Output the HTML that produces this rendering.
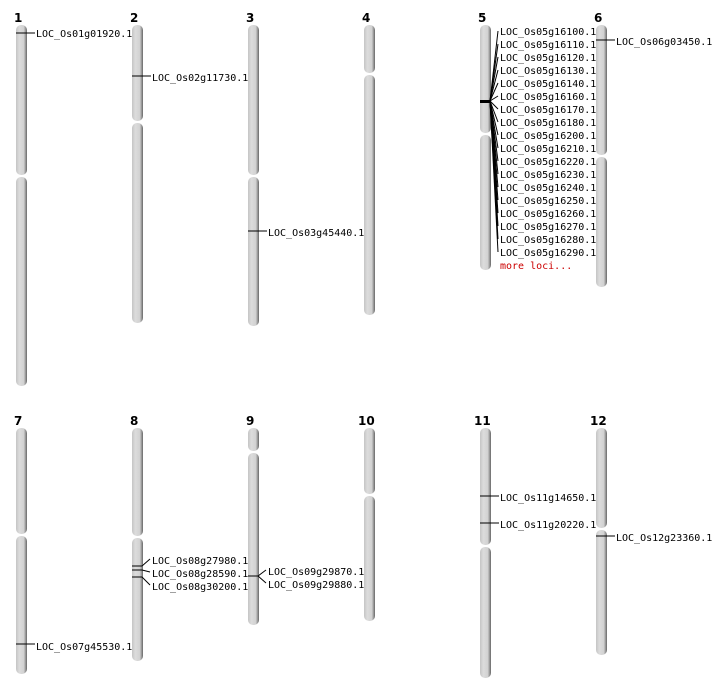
<!DOCTYPE html>
<html><head><meta charset="utf-8"><style>
html,body{margin:0;padding:0;background:#fff;}
svg{display:block;}
.n{font-family:"DejaVu Sans","Liberation Sans",sans-serif;font-weight:bold;font-size:12px;fill:#000;}
.l{font-family:"DejaVu Sans Mono","Liberation Mono",monospace;font-size:10px;fill:#000;}
.r{font-family:"DejaVu Sans Mono","Liberation Mono",monospace;font-size:10px;fill:#c00;}
.s{fill:url(#g);}
line{stroke:#000;stroke-width:1;}
</style></head><body>
<svg width="712" height="700" viewBox="0 0 712 700" xmlns="http://www.w3.org/2000/svg">
<defs><linearGradient id="g" x1="0" x2="1" y1="0" y2="0">
<stop offset="0" stop-color="#c4c4c4"/><stop offset="0.3" stop-color="#dcdcdc"/><stop offset="0.7" stop-color="#d2d2d2"/><stop offset="0.85" stop-color="#a0a0a0"/><stop offset="1" stop-color="#666"/></linearGradient></defs>
<!-- row 1 -->
<text class="n" x="14" y="22">1</text><text class="n" x="130" y="22">2</text><text class="n" x="246" y="22">3</text><text class="n" x="362" y="22">4</text><text class="n" x="478" y="22">5</text><text class="n" x="594" y="22">6</text>
<rect class="s" x="16" y="25" width="11" height="150" rx="5"/><rect class="s" x="16" y="177" width="11" height="209" rx="5"/>
<rect class="s" x="132" y="25" width="11" height="96" rx="5"/><rect class="s" x="132" y="123" width="11" height="200" rx="5"/>
<rect class="s" x="248" y="25" width="11" height="150" rx="5"/><rect class="s" x="248" y="177" width="11" height="149" rx="5"/>
<rect class="s" x="364" y="25" width="11" height="48" rx="5"/><rect class="s" x="364" y="75" width="11" height="240" rx="5"/>
<rect class="s" x="480" y="25" width="11" height="108" rx="5"/><rect class="s" x="480" y="135" width="11" height="135" rx="5"/>
<rect class="s" x="596" y="25" width="11" height="130" rx="5"/><rect class="s" x="596" y="157" width="11" height="130" rx="5"/>
<line x1="16" y1="33" x2="35" y2="33"/><text class="l" x="36" y="37">LOC_Os01g01920.1</text>
<line x1="132" y1="76" x2="151" y2="76"/><text class="l" x="152" y="81">LOC_Os02g11730.1</text>
<line x1="248" y1="231" x2="267" y2="231"/><text class="l" x="268" y="236">LOC_Os03g45440.1</text>
<line x1="596" y1="40" x2="615" y2="40"/><text class="l" x="616" y="45">LOC_Os06g03450.1</text>
<rect x="480" y="100" width="11" height="3" fill="#000"/>
<g>
<line x1="490" y1="101" x2="498" y2="31"/><line x1="490" y1="101" x2="498" y2="44"/><line x1="490" y1="101" x2="498" y2="57"/><line x1="490" y1="101" x2="498" y2="70"/><line x1="490" y1="101" x2="498" y2="83"/><line x1="490" y1="101" x2="498" y2="96"/><line x1="490" y1="101" x2="498" y2="109"/><line x1="490" y1="101" x2="498" y2="122"/><line x1="490" y1="101" x2="498" y2="135"/><line x1="490" y1="101" x2="498" y2="148"/><line x1="490" y1="101" x2="498" y2="161"/><line x1="490" y1="101" x2="498" y2="174"/><line x1="490" y1="101" x2="498" y2="187"/><line x1="490" y1="101" x2="498" y2="200"/><line x1="490" y1="101" x2="498" y2="213"/><line x1="490" y1="101" x2="498" y2="226"/><line x1="490" y1="101" x2="498" y2="239"/><line x1="490" y1="101" x2="498" y2="252"/>
</g>
<text class="l" x="500" y="35">LOC_Os05g16100.1</text>
<text class="l" x="500" y="48">LOC_Os05g16110.1</text>
<text class="l" x="500" y="61">LOC_Os05g16120.1</text>
<text class="l" x="500" y="74">LOC_Os05g16130.1</text>
<text class="l" x="500" y="87">LOC_Os05g16140.1</text>
<text class="l" x="500" y="100">LOC_Os05g16160.1</text>
<text class="l" x="500" y="113">LOC_Os05g16170.1</text>
<text class="l" x="500" y="126">LOC_Os05g16180.1</text>
<text class="l" x="500" y="139">LOC_Os05g16200.1</text>
<text class="l" x="500" y="152">LOC_Os05g16210.1</text>
<text class="l" x="500" y="165">LOC_Os05g16220.1</text>
<text class="l" x="500" y="178">LOC_Os05g16230.1</text>
<text class="l" x="500" y="191">LOC_Os05g16240.1</text>
<text class="l" x="500" y="204">LOC_Os05g16250.1</text>
<text class="l" x="500" y="217">LOC_Os05g16260.1</text>
<text class="l" x="500" y="230">LOC_Os05g16270.1</text>
<text class="l" x="500" y="243">LOC_Os05g16280.1</text>
<text class="l" x="500" y="256">LOC_Os05g16290.1</text>
<text class="r" x="500" y="269">more loci...</text>
<!-- row 2 -->
<text class="n" x="14" y="425">7</text><text class="n" x="130" y="425">8</text><text class="n" x="246" y="425">9</text><text class="n" x="358" y="425">10</text><text class="n" x="474" y="425">11</text><text class="n" x="590" y="425">12</text>
<rect class="s" x="16" y="428" width="11" height="106" rx="5"/><rect class="s" x="16" y="536" width="11" height="138" rx="5"/>
<rect class="s" x="132" y="428" width="11" height="108" rx="5"/><rect class="s" x="132" y="538" width="11" height="123" rx="5"/>
<rect class="s" x="248" y="428" width="11" height="23" rx="5"/><rect class="s" x="248" y="453" width="11" height="172" rx="5"/>
<rect class="s" x="364" y="428" width="11" height="66" rx="5"/><rect class="s" x="364" y="496" width="11" height="125" rx="5"/>
<rect class="s" x="480" y="428" width="11" height="117" rx="5"/><rect class="s" x="480" y="547" width="11" height="131" rx="5"/>
<rect class="s" x="596" y="428" width="11" height="100" rx="5"/><rect class="s" x="596" y="530" width="11" height="125" rx="5"/>
<line x1="16" y1="644" x2="35" y2="644"/><text class="l" x="36" y="650">LOC_Os07g45530.1</text>
<line x1="132" y1="566" x2="142" y2="566"/><line x1="142" y1="566" x2="150" y2="559"/><text class="l" x="152" y="564">LOC_Os08g27980.1</text>
<line x1="132" y1="570" x2="142" y2="570"/><line x1="142" y1="570" x2="150" y2="572"/><text class="l" x="152" y="577">LOC_Os08g28590.1</text>
<line x1="132" y1="577" x2="142" y2="577"/><line x1="142" y1="577" x2="150" y2="585"/><text class="l" x="152" y="590">LOC_Os08g30200.1</text>
<line x1="248" y1="576" x2="258" y2="576"/><line x1="258" y1="576" x2="266" y2="570"/><line x1="258" y1="576" x2="266" y2="583"/>
<text class="l" x="268" y="575">LOC_Os09g29870.1</text><text class="l" x="268" y="588">LOC_Os09g29880.1</text>
<line x1="480" y1="496" x2="499" y2="496"/><text class="l" x="500" y="501">LOC_Os11g14650.1</text>
<line x1="480" y1="523" x2="499" y2="523"/><text class="l" x="500" y="528">LOC_Os11g20220.1</text>
<line x1="596" y1="536" x2="615" y2="536"/><text class="l" x="616" y="541">LOC_Os12g23360.1</text>
</svg>
</body></html>
